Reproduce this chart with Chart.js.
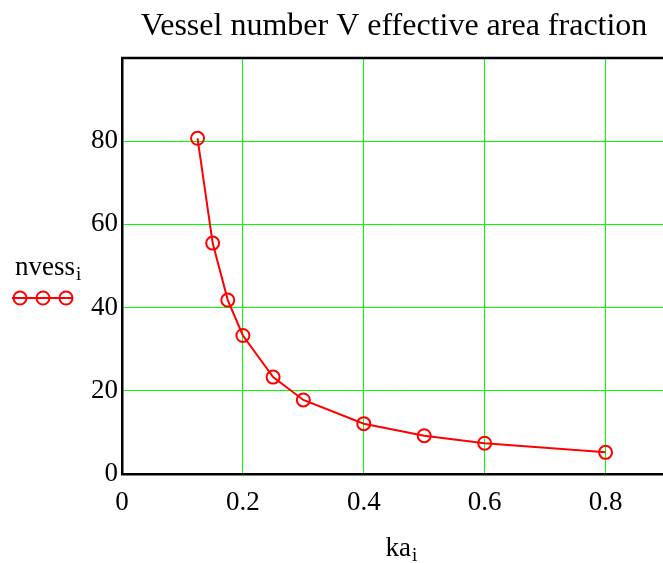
<!DOCTYPE html>
<html>
<head>
<meta charset="utf-8">
<script src="https://cdn.jsdelivr.net/npm/chart.js@4"></script>
<style>
  html, body { margin: 0; padding: 0; background: #fff; overflow: hidden; }
  canvas { display: block; }
</style>
</head>
<body>
<canvas id="vesselChart" width="666" height="563"></canvas>
<script>
// Values
const ka = [0.125, 0.15, 0.175, 0.2, 0.25, 0.3, 0.4, 0.5, 0.6, 0.8];
const nvess = [80.7, 55.5, 41.8, 33.3, 23.3, 17.8, 12.1, 9.2, 7.4, 5.2];
const xTicks = [0, 0.2, 0.4, 0.6, 0.8];
const yTicks = [0, 20, 40, 60, 80];

const titleText = 'Vessel number V effective area fraction';
const serif = '"Liberation Serif", "Times New Roman", serif';

// Title, frame, axis names and the little legend at the left
const decorations = {
    id: 'decorations',
    afterDraw(chart) {
        const ctx = chart.ctx;
        const area = chart.chartArea;
        ctx.save();

        // frame: top line (left and bottom come from the axes)
        ctx.strokeStyle = '#000';
        ctx.lineWidth = 2.5;
        ctx.beginPath();
        ctx.moveTo(area.left - 1, area.top);
        ctx.lineTo(area.right + 2, area.top);
        ctx.stroke();

        ctx.fillStyle = '#000';
        ctx.textBaseline = 'alphabetic';

        // title
        ctx.font = '32px ' + serif;
        ctx.textAlign = 'center';
        ctx.fillText(titleText, 394, 35);

        // x axis name: ka with subscript i
        ctx.textAlign = 'left';
        ctx.font = '27px ' + serif;
        const kaW = ctx.measureText('ka').width;
        ctx.font = '19px ' + serif;
        const iW = ctx.measureText('i').width;
        const x0 = 401 - (kaW + iW) / 2;
        ctx.font = '27px ' + serif;
        ctx.fillText('ka', x0, 556);
        ctx.font = '19px ' + serif;
        ctx.fillText('i', x0 + kaW + 1, 561);

        // y axis name: nvess with subscript i
        ctx.font = '27px ' + serif;
        ctx.fillText('nvess', 15, 275);
        const nW = ctx.measureText('nvess').width;
        ctx.font = '19px ' + serif;
        ctx.fillText('i', 15 + nW + 1, 280);

        // legend symbol
        ctx.strokeStyle = '#ff0000';
        ctx.lineWidth = 2;
        ctx.beginPath();
        ctx.moveTo(12, 298);
        ctx.lineTo(73, 298);
        ctx.stroke();
        [20, 43, 66].forEach(cx => {
            ctx.beginPath();
            ctx.arc(cx, 298, 6.5, 0, Math.PI * 2);
            ctx.stroke();
        });

        ctx.restore();
    }
};

const ctx = document.getElementById('vesselChart').getContext('2d');
new Chart(ctx, {
    type: 'line',
    data: {
        datasets: [{
            label: 'nvess',
            data: ka.map((k, i) => ({ x: k, y: nvess[i] })),
            borderColor: '#ff0000',
            borderWidth: 2,
            backgroundColor: 'rgba(0,0,0,0)',
            pointStyle: 'circle',
            pointRadius: 6.5,
            pointBorderWidth: 2,
            pointBorderColor: '#ff0000',
            pointBackgroundColor: 'rgba(0,0,0,0)',
            tension: 0
        }]
    },
    options: {
        responsive: false,
        animation: false,
        layout: { autoPadding: false, padding: { left: 0, right: 0, top: 58, bottom: 0 } },
        plugins: {
            legend: { display: false },
            title: { display: false },
            tooltip: { enabled: false }
        },
        scales: {
            x: {
                type: 'linear',
                min: 0,
                max: 0.9,
                afterBuildTicks: axis => { axis.ticks = xTicks.map(v => ({ value: v })); },
                afterFit: axis => { axis.height = 89; },
                ticks: {
                    color: '#000',
                    font: { family: serif, size: 27 },
                    padding: 13,
                    maxRotation: 0,
                    callback: v => String(v)
                },
                grid: {
                    color: ctx => ctx.tick && ctx.tick.value === 0 ? 'rgba(0,0,0,0)' : '#00ff00',
                    lineWidth: 1,
                    drawTicks: false
                },
                border: { display: true, color: '#000', width: 2.5 }
            },
            y: {
                type: 'linear',
                min: 0,
                max: 100,
                afterBuildTicks: axis => { axis.ticks = yTicks.map(v => ({ value: v })); },
                afterFit: axis => { axis.width = 122; },
                ticks: {
                    color: '#000',
                    font: { family: serif, size: 27 },
                    padding: 4,
                    callback: v => String(v)
                },
                grid: {
                    color: ctx => ctx.tick && ctx.tick.value === 0 ? 'rgba(0,0,0,0)' : '#00ff00',
                    lineWidth: 1,
                    drawTicks: false
                },
                border: { display: true, color: '#000', width: 2.5 }
            }
        }
    },
    plugins: [decorations]
});
</script>
</body>
</html>
